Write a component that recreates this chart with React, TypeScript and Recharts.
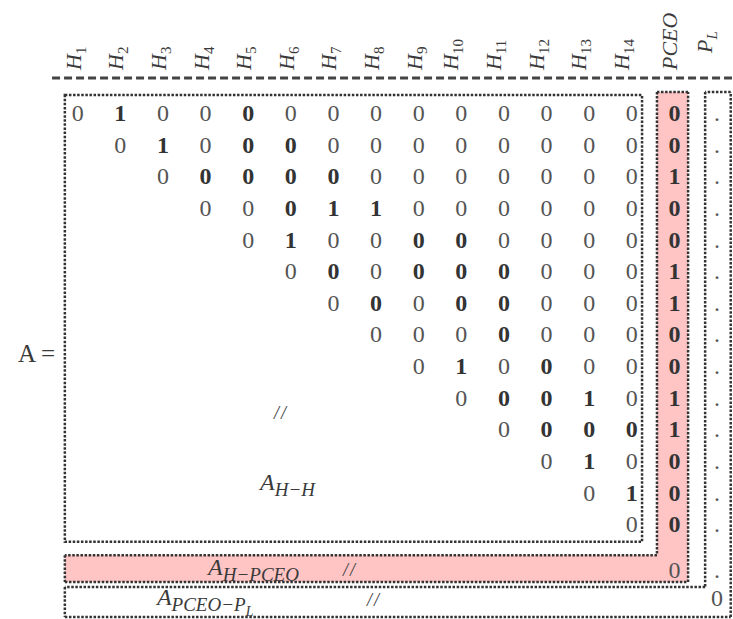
import {
  ReferenceArea,
  ReferenceLine,
  Scatter,
  ScatterChart,
  XAxis,
  YAxis,
} from "recharts";

// column headers (text after "_" is a subscript)
const columnLabels = [
  "H_1", "H_2", "H_3", "H_4", "H_5", "H_6", "H_7", "H_8", "H_9",
  "H_10", "H_11", "H_12", "H_13", "H_14", "PCEO", "P_L",
];

// upper triangle of A_{H-H}; row i starts on column H_i
const hhValues = [
  [0, 1, 0, 0, 0, 0, 0, 0, 0, 0, 0, 0, 0, 0],
  [0, 1, 0, 0, 0, 0, 0, 0, 0, 0, 0, 0, 0],
  [0, 0, 0, 0, 0, 0, 0, 0, 0, 0, 0, 0],
  [0, 0, 0, 1, 1, 0, 0, 0, 0, 0, 0],
  [0, 1, 0, 0, 0, 0, 0, 0, 0, 0],
  [0, 0, 0, 0, 0, 0, 0, 0, 0],
  [0, 0, 0, 0, 0, 0, 0, 0],
  [0, 0, 0, 0, 0, 0, 0],
  [0, 1, 0, 0, 0, 0],
  [0, 0, 0, 1, 0],
  [0, 0, 0, 0],
  [0, 1, 0],
  [0, 1],
  [0],
];

// 1 = entry printed in bold
const hhBold = [
  [0, 1, 0, 0, 1, 0, 0, 0, 0, 0, 0, 0, 0, 0],
  [0, 1, 0, 1, 1, 0, 0, 0, 0, 0, 0, 0, 0],
  [0, 1, 1, 1, 1, 0, 0, 0, 0, 0, 0, 0],
  [0, 0, 1, 1, 1, 0, 0, 0, 0, 0, 0],
  [0, 1, 0, 0, 1, 1, 0, 0, 0, 0],
  [0, 1, 0, 1, 1, 1, 0, 0, 0],
  [0, 1, 0, 1, 1, 0, 0, 0],
  [0, 0, 0, 1, 0, 0, 0],
  [0, 1, 0, 1, 0, 0],
  [0, 1, 1, 1, 0],
  [0, 1, 1, 1],
  [0, 1, 0],
  [0, 1],
  [0],
];

// A_{H-PCEO} column, rows H_1..H_14
const pceoValues = [0, 0, 1, 0, 0, 1, 1, 0, 0, 1, 1, 0, 0, 0];
const pceoSelf = 0;
const plSelf = 0;

const blockNames = [
  { c: 5.28, r: 12.92, main: "A", sub: "H−H", subsub: "" },
  { c: 4.06, r: 15.61, main: "A", sub: "H−PCEO", subsub: "" },
  { c: 2.86, r: 16.56, main: "A", sub: "PCEO−P", subsub: "L" },
];
const breakMarks = [
  { c: 5.77, r: 10.48, text: "//" },
  { c: 7.39, r: 15.45, text: "//" },
  { c: 7.95, r: 16.4, text: "//" },
];
const matrixName = [{ c: 0.47, r: 8.87, text: "A =" }];

// layout
const ROW_H_PCEO = 15.45;
const ROW_PL = 16.35;
const Y_TOP = -0.11;
const PINK = "#ffc4c4";
const INK = "#3a3a3a";
const SERIF = "'Liberation Serif', 'DejaVu Serif', serif";
const dotted = { stroke: "#333", strokeWidth: 2.5, strokeDasharray: "2.5 1.6" };

const hhCells = hhValues.flatMap((row, i) =>
  row.map((v, j) => ({ c: i + j + 1, r: i + 1, text: String(v), bold: hhBold[i][j] === 1 }))
);
const pceoCells = [
  ...pceoValues.map((v, i) => ({ c: 15, r: i + 1, text: String(v), bold: true })),
  { c: 15, r: ROW_H_PCEO, text: String(pceoSelf), bold: false },
];
const plCells = [
  ...pceoCells.map((p) => ({ c: 16, r: p.r, text: ".", bold: false })),
  { c: 16, r: ROW_PL, text: String(plSelf), bold: false },
];

const CellText = (props: any) => {
  const { cx, cy, payload } = props;
  return (
    <text
      x={cx}
      y={cy}
      textAnchor="middle"
      dominantBaseline="central"
      fontFamily={SERIF}
      fontSize={24}
      fontWeight={payload.bold ? 700 : 400}
      fill={payload.bold ? "#333" : "#555"}
    >
      {payload.text}
    </text>
  );
};

const BlockName = (props: any) => {
  const { cx, cy, payload } = props;
  return (
    <text x={cx} y={cy} fontFamily={SERIF} fontStyle="italic" fontSize={24} fill={INK}>
      {payload.main}
      <tspan dy={6} fontSize={19}>
        {payload.sub}
      </tspan>
      {payload.subsub && (
        <tspan dy={5} fontSize={14}>
          {payload.subsub}
        </tspan>
      )}
    </text>
  );
};

const PlainText = (anchor: "start" | "middle" | "end", italic: boolean, size: number) =>
  function Plain(props: any) {
    const { cx, cy, payload } = props;
    return (
      <text
        x={cx}
        y={cy}
        textAnchor={anchor}
        dominantBaseline={italic ? "central" : "alphabetic"}
        fontFamily={SERIF}
        fontStyle={italic ? "italic" : "normal"}
        fontSize={size}
        letterSpacing={italic ? 2 : 0}
        fill={INK}
      >
        {payload.text}
      </text>
    );
  };

const HeaderTick = (props: any) => {
  const { x, y, payload } = props;
  const label = columnLabels[payload.value - 1] ?? "";
  const [main, sub] = label.split("_");
  let dx = sub && sub.length > 1 ? -3 : 3;
  let y0 = y;
  if (label === "P_L") {
    dx = -5;
    y0 = y - 17;
  }
  const numeric = sub && /^\d+$/.test(sub);
  return (
    <text
      transform={`translate(${x + dx}, ${y0}) rotate(-90)`}
      fontFamily={SERIF}
      fontStyle="italic"
      fontSize={22}
      fill={INK}
    >
      {main}
      {sub && (
        <tspan dy={5} fontSize={15} fontStyle={numeric ? "normal" : "italic"}>
          {sub}
        </tspan>
      )}
    </text>
  );
};

const seg = (x1: number, y1: number, x2: number, y2: number) => [
  { x: x1, y: y1 },
  { x: x2, y: y2 },
];

// outlines drawn edge by edge (two L-shaped blocks)
const pinkEdges = [
  seg(14.59, 0.33, 14.59, 14.98),
  seg(14.59, 14.98, 0.7, 14.98),
  seg(0.7, 14.98, 0.7, 15.83),
  seg(0.7, 15.83, 15.32, 15.83),
  seg(15.32, 15.83, 15.32, 0.33),
  seg(15.32, 0.33, 14.59, 0.33),
];
const plEdges = [
  seg(15.72, 0.33, 15.72, 15.99),
  seg(15.72, 15.99, 0.7, 15.99),
  seg(0.7, 15.99, 0.7, 16.94),
  seg(0.7, 16.94, 16.32, 16.94),
  seg(16.32, 16.94, 16.32, 0.33),
  seg(16.32, 0.33, 15.72, 0.33),
];

export default function App() {
  const ticks = columnLabels.map((_, i) => i + 1);
  return (
    <div style={{ position: "absolute", left: 0, top: 0, background: "#fff" }}>
      <ScatterChart width={733} height={619} margin={{ top: 0, right: 1, bottom: 0, left: 35 }}>
        <XAxis
          type="number"
          dataKey="c"
          orientation="top"
          domain={[0, 16.35]}
          ticks={ticks}
          interval={0}
          tick={(p: any) => <HeaderTick {...p} />}
          tickLine={false}
          axisLine={false}
          tickSize={0}
          tickMargin={8}
          height={78}
        />
        <YAxis type="number" dataKey="r" domain={[Y_TOP, 17]} reversed hide width={0} />

        <ReferenceArea x1={14.59} x2={15.32} y1={0.33} y2={15.83} fill={PINK} fillOpacity={1} stroke="none" />
        <ReferenceArea x1={0.7} x2={15.32} y1={14.98} y2={15.83} fill={PINK} fillOpacity={1} stroke="none" />
        <ReferenceArea x1={0.7} x2={14.24} y1={0.43} y2={14.56} fill="none" {...dotted} />

        <ReferenceLine
          segment={seg(0.4, Y_TOP, 16.35, Y_TOP)}
          stroke="#444"
          strokeWidth={3}
          strokeDasharray="8 4"
        />
        {pinkEdges.map((s, i) => (
          <ReferenceLine key={`p${i}`} segment={s} {...dotted} />
        ))}
        {plEdges.map((s, i) => (
          <ReferenceLine key={`l${i}`} segment={s} {...dotted} />
        ))}

        <Scatter data={hhCells} shape={CellText} isAnimationActive={false} />
        <Scatter data={pceoCells} shape={CellText} isAnimationActive={false} />
        <Scatter data={plCells} shape={CellText} isAnimationActive={false} />
        <Scatter data={blockNames} shape={BlockName} isAnimationActive={false} />
        <Scatter data={breakMarks} shape={PlainText("middle", true, 18)} isAnimationActive={false} />
        <Scatter data={matrixName} shape={PlainText("end", false, 25)} isAnimationActive={false} />
      </ScatterChart>
    </div>
  );
}
